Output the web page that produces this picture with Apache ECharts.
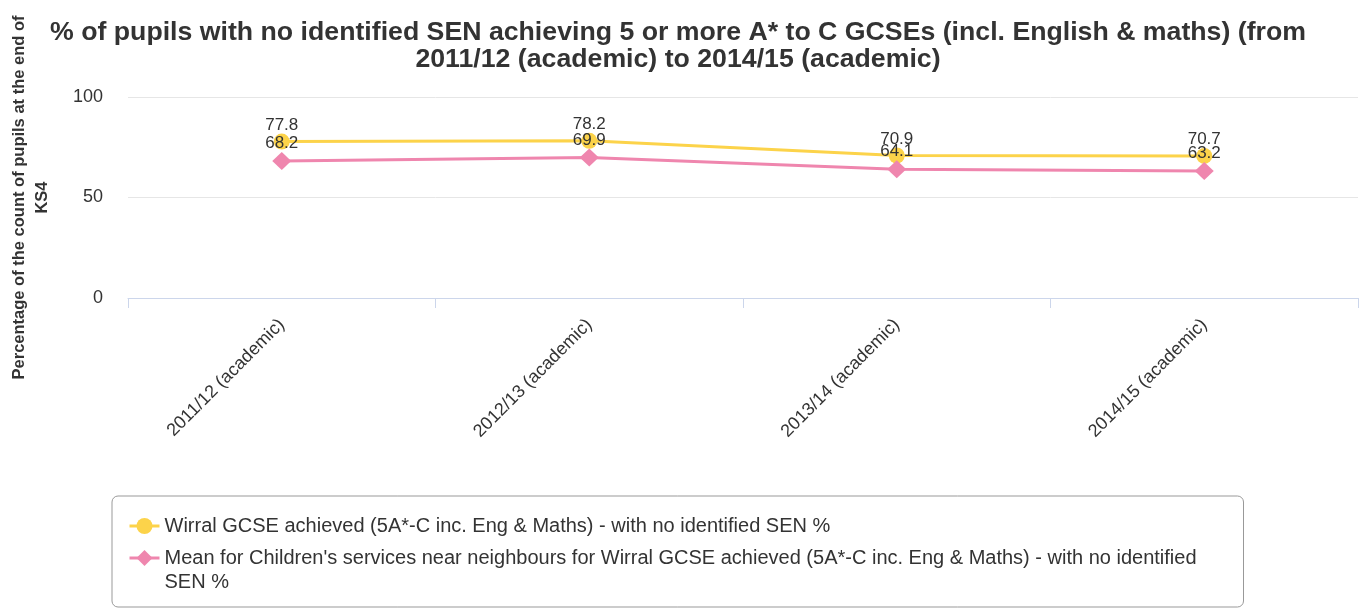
<!DOCTYPE html>
<html>
<head>
<meta charset="utf-8">
<script src="https://cdn.jsdelivr.net/npm/echarts@6/dist/echarts.min.js"></script>
<style>
html,body{margin:0;padding:0;background:#fff;}
#chart{width:1367px;height:609px;}
</style>
</head>
<body>
<div id="chart"></div>
<script>
const categories = ["2011/12 (academic)", "2012/13 (academic)", "2013/14 (academic)", "2014/15 (academic)"];
const wirral = [77.8, 78.2, 70.9, 70.7];
const neighbours = [68.2, 69.9, 64.1, 63.2];
const seriesNames = [
  "Wirral GCSE achieved (5A*-C inc. Eng & Maths) - with no identified SEN %",
  "Mean for Children's services near neighbours for Wirral GCSE achieved (5A*-C inc. Eng & Maths) - with no identified SEN %"
];
const yTicks = { min: 0, max: 100, interval: 50 };

const FONT = '"Liberation Sans", Arial, Helvetica, sans-serif';
const chart = echarts.init(document.getElementById('chart'), null, { renderer: 'canvas' });
chart.setOption({
  animation: false,
  textStyle: { fontFamily: FONT },
  title: {
    text: "% of pupils with no identified SEN achieving 5 or more A* to C GCSEs (incl. English & maths) (from\n2011/12 (academic) to 2014/15 (academic)",
    left: 673, top: 14, textAlign: 'center',
    textStyle: { fontFamily: FONT, fontSize: 26.7, fontWeight: 'bold', color: '#333', lineHeight: 27 }
  },
  grid: { left: 128, right: 9, top: 97, bottom: 311, containLabel: false, outerBoundsMode: 'none' },
  xAxis: {
    type: 'category', data: categories, boundaryGap: true,
    axisLine: { show: true, lineStyle: { color: '#ccd6eb', width: 1 } },
    axisTick: { show: true, alignWithLabel: false, length: 10, lineStyle: { color: '#ccd6eb' } },
    axisLabel: { rotate: 45, fontSize: 18, color: '#333', fontFamily: FONT, margin: 24 },
    splitLine: { show: false }
  },
  yAxis: {
    type: 'value', min: yTicks.min, max: yTicks.max, interval: yTicks.interval,
    name: "Percentage of the count of pupils at the end of\nKS4",
    nameLocation: 'middle', nameGap: 74, nameRotate: 90,
    nameTextStyle: { fontSize: 16.5, fontWeight: 'bold', color: '#333', fontFamily: FONT, lineHeight: 23 },
    axisLine: { show: false }, axisTick: { show: false },
    axisLabel: { fontSize: 18, color: '#333', fontFamily: FONT, margin: 25 },
    splitLine: { lineStyle: { color: '#e6e6e6', width: 1 } }
  },
  legend: {
    orient: 'vertical', left: 112, top: 496, height: 300,
    padding: [18, 14, 13, 16],
    itemGap: -16, itemWidth: 30, itemHeight: 20,
    lineStyle: { width: 3 },
    borderColor: '#999', borderWidth: 1, borderRadius: 6,
    formatter: function (name) { return name === seriesNames[1] ? '\n' + name : name; },
    textStyle: { fontSize: 20, color: '#333', fontFamily: FONT, width: 1065, overflow: 'break', lineHeight: 24 },
    data: seriesNames
  },
  series: [
    {
      name: seriesNames[0], type: 'line', data: wirral,
      symbol: 'circle', symbolSize: 16,
      itemStyle: { color: '#fcd34a' },
      lineStyle: { color: '#fcd34a', width: 3 },
      label: { show: true, position: 'top', distance: 0, fontSize: 17, color: '#333', fontFamily: FONT },
      z: 2
    },
    {
      name: seriesNames[1], type: 'line', data: neighbours,
      symbol: 'diamond', symbolSize: [19, 18],
      itemStyle: { color: '#ef86ae' },
      lineStyle: { color: '#ef86ae', width: 3 },
      label: { show: true, position: 'top', distance: 0, fontSize: 17, color: '#333', fontFamily: FONT },
      z: 3
    }
  ]
});
</script>
</body>
</html>
